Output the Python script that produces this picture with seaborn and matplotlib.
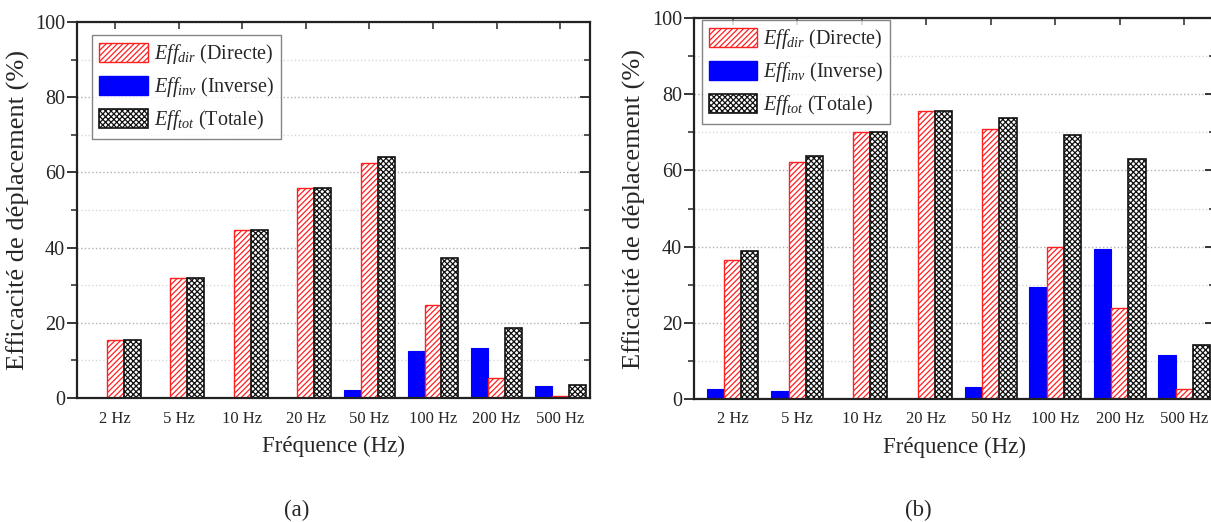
import seaborn as sns
import numpy as np
import pandas as pd
from matplotlib import pyplot as plt
from matplotlib import patches
from matplotlib.ticker import MultipleLocator

freqs = ["2 Hz", "5 Hz", "10 Hz", "20 Hz", "50 Hz", "100 Hz", "200 Hz", "500 Hz"]

# (a)
a_dir = [15.5, 32.0, 44.6, 55.8, 62.5, 24.7, 5.3, 0.6]
a_inv = [0.0, 0.0, 0.0, 0.0, 2.2, 12.6, 13.4, 3.1]
a_tot = [15.5, 32.0, 44.6, 55.8, 64.2, 37.3, 18.6, 3.4]

# (b)
b_dir = [36.5, 62.1, 70.0, 75.6, 70.9, 39.9, 23.8, 2.7]
b_inv = [2.5, 2.0, 0.0, 0.0, 3.0, 29.3, 39.3, 11.5]
b_tot = [38.8, 63.9, 70.0, 75.6, 73.9, 69.2, 62.9, 14.1]

series = ["inv", "dir", "tot"]
labels = {
    "dir": r"$\mathit{Eff}_{dir}$ (Directe)",
    "inv": r"$\mathit{Eff}_{inv}$ (Inverse)",
    "tot": r"$\mathit{Eff}_{tot}$ (Totale)",
}

sns.set_theme(style="white")
plt.rcParams["font.family"] = ["Liberation Serif", "DejaVu Serif"]
plt.rcParams["mathtext.fontset"] = "custom"
plt.rcParams["mathtext.rm"] = "Liberation Serif"
plt.rcParams["mathtext.it"] = "Liberation Serif:italic"
plt.rcParams["hatch.linewidth"] = 0.9


def make_df(inv, dir_, tot):
    rows = []
    for name, vals in zip(series, [inv, dir_, tot]):
        for f, v in zip(freqs, vals):
            rows.append({"freq": f, "serie": name, "val": v})
    return pd.DataFrame(rows)


def style_bars(ax):
    styles = [
        dict(fc="#0000ff", ec="#0000ff", hatch=None, lw=0.8),
        dict(fc="white", ec="#ff2020", hatch="//////", lw=1.0),
        dict(fc="white", ec="#111111", hatch="xxxxxx", lw=1.2),
    ]
    for cont, st in zip(ax.containers, styles):
        for bar in cont:
            bar.set_facecolor(st["fc"])
            bar.set_edgecolor(st["ec"])
            bar.set_linewidth(st["lw"])
            if st["hatch"]:
                bar.set_hatch(st["hatch"])


def panel(ax, inv, dir_, tot, leg_anchor):
    df = make_df(inv, dir_, tot)
    sns.barplot(data=df, x="freq", y="val", hue="serie", hue_order=series,
                order=freqs, ax=ax, width=0.8, saturation=1, legend=False,
                palette=["#0000ff", "#ff2020", "#111111"])
    style_bars(ax)

    ax.set_ylim(0, 100)
    ax.set_xlim(-0.6, 7.47)
    ax.yaxis.set_major_locator(MultipleLocator(20))
    ax.yaxis.set_minor_locator(MultipleLocator(10))
    ax.yaxis.grid(True, which="major", linestyle=":", color="#b0b0b0", lw=1.0)
    ax.yaxis.grid(True, which="minor", linestyle=":", color="#d8d8d8", lw=1.0)
    ax.set_axisbelow(True)

    ax.tick_params(axis="y", which="major", direction="out", length=7, width=1.3,
                   labelsize=14.5, right=True, left=True, pad=1.5)
    ax.tick_params(axis="y", which="minor", direction="out", length=4, width=1.1,
                   right=True, left=True)
    ax.tick_params(axis="x", which="major", bottom=False, top=True, direction="in",
                   length=5, width=1.1, labelsize=12, pad=9)
    # right ticks point inward
    for t in ax.yaxis.get_major_ticks() + ax.yaxis.get_minor_ticks():
        t.tick2line.set_marker(0)

    for s in ax.spines.values():
        s.set_color("#222222")
        s.set_linewidth(1.6)

    ax.set_xlabel("Fréquence (Hz)", fontsize=16.5, labelpad=7)
    ax.set_ylabel("Efficacité de déplacement (%)", fontsize=19, labelpad=4)

    handles = [
        patches.Patch(facecolor="white", edgecolor="#ff2020", hatch="//////", lw=1.0),
        patches.Patch(facecolor="#0000ff", edgecolor="#0000ff"),
        patches.Patch(facecolor="white", edgecolor="#111111", hatch="xxxxxx", lw=1.2),
    ]
    leg = ax.legend(handles, [labels["dir"], labels["inv"], labels["tot"]],
                    loc="upper left", bbox_to_anchor=leg_anchor, borderaxespad=0,
                    fontsize=14.5, frameon=True, fancybox=False, edgecolor="#666666",
                    handlelength=2.4, handleheight=1.1, labelspacing=0.45,
                    handletextpad=0.3, borderpad=0.35)
    leg.get_frame().set_linewidth(1.0)


fig = plt.figure(figsize=(12.11, 5.22), dpi=100)
ax1 = fig.add_axes([0.0636, 0.2375, 0.4236, 0.7203])
ax2 = fig.add_axes([0.573, 0.236, 0.43, 0.729])

panel(ax1, a_inv, a_dir, a_tot, (0.03, 0.965))
panel(ax2, b_inv, b_dir, b_tot, (0.015, 0.995))

fig.text(0.245, 0.023, "(a)", fontsize=16.5, ha="center", va="center")
fig.text(0.758, 0.023, "(b)", fontsize=16.5, ha="center", va="center")

fig.savefig("out.png", dpi=100)
